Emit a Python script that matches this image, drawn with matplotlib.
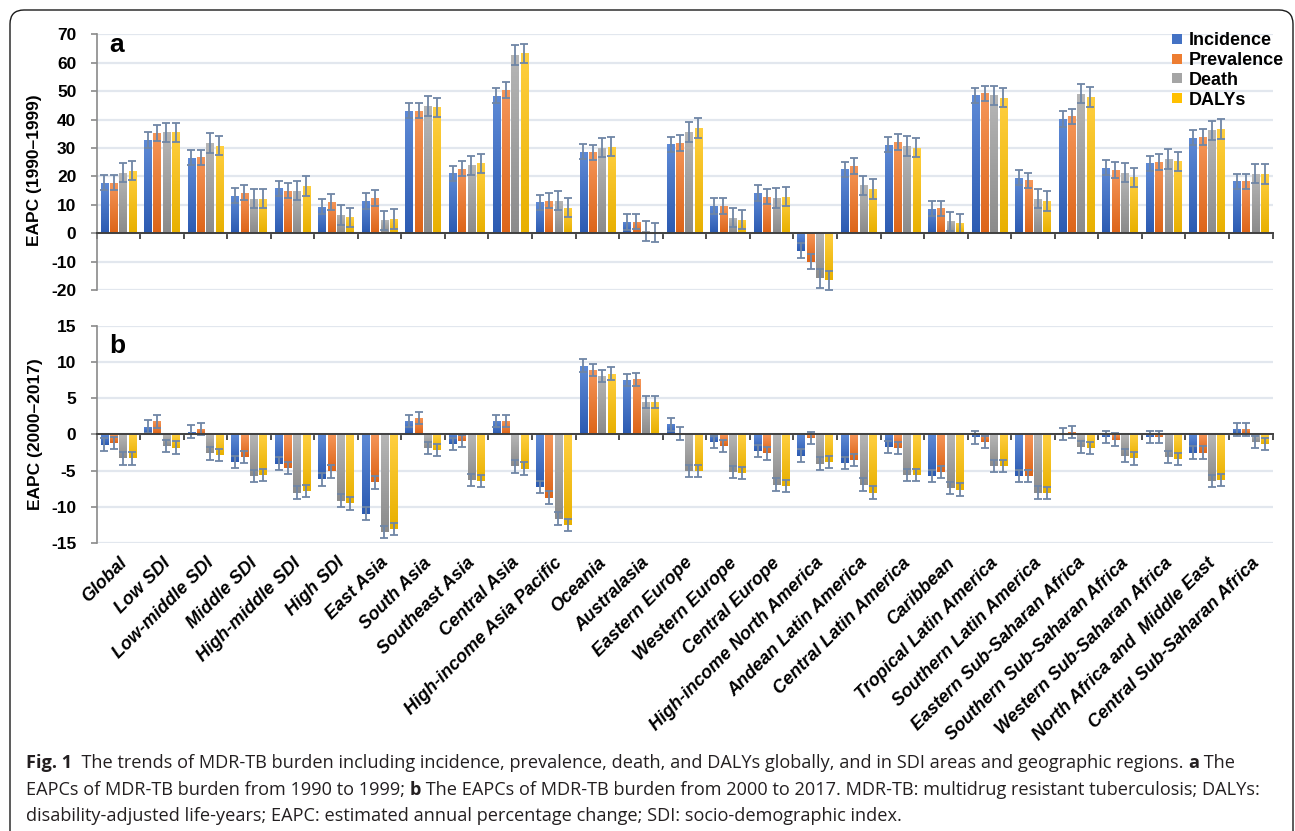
import numpy as np
import matplotlib
matplotlib.use("Agg")
import matplotlib.pyplot as plt
from matplotlib import transforms
from matplotlib.colors import LinearSegmentedColormap
from matplotlib.lines import Line2D
from matplotlib.patches import FancyBboxPatch

regions = [
    "Global", "Low SDI", "Low-middle SDI", "Middle SDI", "High-middle SDI",
    "High SDI", "East Asia", "South Asia", "Southeast Asia", "Central Asia",
    "High-income Asia Pacific", "Oceania", "Australasia", "Eastern Europe",
    "Western Europe", "Central Europe", "High-income North America",
    "Andean Latin America", "Central Latin America", "Caribbean",
    "Tropical Latin America", "Southern Latin America",
    "Eastern Sub-Saharan Africa", "Southern Sub-Saharan Africa",
    "Western Sub-Saharan Africa", "North Africa and  Middle East",
    "Central Sub-Saharan Africa",
]
measures = ["Incidence", "Prevalence", "Death", "DALYs"]

# EAPC 1990-1999
inc_a = [17.8, 32.8, 26.6, 13.2, 15.8, 9.3, 11.3, 43.1, 21.1, 48.4, 10.9, 28.7, 3.9, 31.3,
         9.6, 14.2, -6.2, 22.5, 31.2, 8.6, 48.5, 19.5, 40.2, 23.1, 24.6, 33.6, 18.2]
prev_a = [17.8, 35.2, 26.7, 14.3, 15.0, 11.0, 12.4, 43.1, 22.7, 50.4, 11.4, 28.4, 4.1, 31.8,
          9.6, 12.9, -10.0, 23.7, 32.1, 8.7, 49.2, 18.6, 41.1, 22.2, 25.1, 33.9, 18.2]
death_a = [21.3, 35.5, 31.7, 12.1, 15.0, 6.4, 4.5, 44.8, 23.9, 62.7, 11.4, 30.1, 0.8, 35.6,
           5.5, 12.4, -15.9, 16.8, 30.7, 4.2, 48.5, 12.1, 49.1, 21.3, 26.1, 36.2, 20.9]
dalys_a = [22.0, 35.5, 30.8, 12.1, 16.6, 5.6, 5.0, 44.3, 24.6, 63.3, 9.0, 30.5, 0.2, 37.0,
           4.7, 12.8, -16.6, 15.6, 30.1, 3.5, 47.7, 11.3, 47.9, 19.7, 25.3, 36.7, 20.8]
err_a = [2.7, 2.7, 3.4, 3.4]

# EAPC 2000-2017
inc_b = [-1.4, 1.1, 0.4, -3.8, -4.0, -6.2, -10.9, 1.9, -1.3, 1.9, -7.2, 9.5, 7.5, 1.4,
         -1.0, -2.3, -2.9, -3.9, -1.7, -5.7, -0.4, -5.7, 0.1, -0.3, -0.3, -2.5, 0.7]
prev_b = [-1.2, 1.8, 0.8, -3.1, -4.6, -5.1, -6.6, 2.3, -0.9, 1.9, -8.7, 8.9, 7.6, 0.15,
          -1.6, -2.6, -0.5, -3.5, -1.9, -5.2, -1.0, -5.7, 0.3, -0.7, -0.3, -2.5, 0.7]
death_b = [-3.3, -1.6, -2.6, -5.7, -8.0, -9.1, -13.4, -1.9, -6.3, -4.4, -11.6, 8.1, 4.5, -5.0,
           -5.2, -6.9, -4.0, -6.9, -5.6, -7.4, -4.3, -8.0, -1.7, -2.9, -3.1, -6.4, -1.0]
dalys_b = [-3.3, -1.8, -2.8, -5.6, -7.8, -9.5, -13.0, -2.1, -6.4, -4.7, -12.5, 8.4, 4.5, -5.0,
           -5.3, -7.1, -3.8, -8.0, -5.6, -7.6, -4.3, -8.1, -1.9, -3.3, -3.4, -6.3, -1.3]
err_b = [0.85, 0.85, 0.85, 0.85]

# light (top) / dark (bottom) shades of each series
shades = [("#5e8ad6", "#2c5bb2"), ("#f59659", "#dd6519"),
          ("#b6b6b6", "#8b8b8b"), ("#ffcf40", "#e8b000")]
solid = ["#4472c4", "#ed7d31", "#a5a5a5", "#ffc000"]

plt.rcParams["font.family"] = ["Liberation Sans", "DejaVu Sans"]

W, H = 1295, 831
fig = plt.figure(figsize=(W / 100, H / 100), dpi=100)

ax_a = fig.add_axes([96.5 / W, 1 - 290 / H, 1176 / W, 255.7 / H])
ax_b = fig.add_axes([96.5 / W, 1 - 543.3 / H, 1176 / W, 217.6 / H])

x = np.arange(len(regions))
pitch = 0.214
bar_w = 0.17
grad = np.linspace(0, 1, 64).reshape(-1, 1)


def draw_panel(ax, series, errs, ylim, yticks):
    for k, vals in enumerate(series):
        xs = x + (k - 1.5) * pitch
        bars = ax.bar(xs, vals, bar_w, color=solid[k], lw=0, zorder=2)
        cmap = LinearSegmentedColormap.from_list("g%d" % k, [shades[k][1], shades[k][0]])
        for rect in bars:
            x0, y0 = rect.get_x(), rect.get_y()
            w, h = rect.get_width(), rect.get_height()
            lo, hi = min(y0, y0 + h), max(y0, y0 + h)
            im = ax.imshow(grad, extent=[x0, x0 + w, lo, hi], origin="lower",
                           aspect="auto", cmap=cmap, zorder=2.1, interpolation="bilinear")
            im.set_clip_path(rect)
        ax.errorbar(xs, vals, yerr=errs[k], fmt="none", ecolor="#6f86a6",
                    elinewidth=1.3, capsize=3, capthick=1.3, zorder=4)

    ax.set_xlim(-0.5, len(regions) - 0.5)
    ax.set_ylim(*ylim)
    ax.set_yticks(yticks)
    ax.set_yticklabels([str(t) for t in yticks])
    ax.yaxis.grid(True, color="#e2e7ee", lw=1.6)
    ax.set_axisbelow(True)

    for s in ("top", "right"):
        ax.spines[s].set_visible(False)
    ax.spines["left"].set_color("#8a8a8a")
    ax.spines["left"].set_linewidth(1.2)
    ax.spines["bottom"].set_position(("data", 0))
    ax.spines["bottom"].set_color("#404040")
    ax.spines["bottom"].set_linewidth(1.4)
    ax.spines["bottom"].set_zorder(5)

    ax.set_xticks([])
    ax.set_xticks(np.arange(-0.5, len(regions), 1), minor=True)
    ax.tick_params(axis="x", which="minor", length=4, width=1.3, color="#404040",
                   direction="out")
    ax.tick_params(axis="y", length=4.5, width=1.2, color="#8a8a8a", pad=10,
                   labelsize=12.5)
    for lab in ax.get_yticklabels():
        lab.set_fontweight("bold")


draw_panel(ax_a, [inc_a, prev_a, death_a, dalys_a], err_a, (-20, 70), list(range(-20, 71, 10)))
draw_panel(ax_b, [inc_b, prev_b, death_b, dalys_b], err_b, (-15, 15), list(range(-15, 16, 5)))

ax_a.text(0.011, 0.931, "a", transform=ax_a.transAxes, fontsize=19, fontweight="bold",
          va="baseline")
ax_b.text(0.011, 0.875, "b", transform=ax_b.transAxes, fontsize=19, fontweight="bold",
          va="baseline")

fig.text(34.5 / W, 1 - 170 / H, "EAPC (1990\u20131999)", rotation=90, ha="center",
         va="center", fontsize=12.5, fontweight="bold")
fig.text(36 / W, 1 - 434 / H, "EAPC (2000\u20132017)", rotation=90, ha="center",
         va="center", fontsize=12.5, fontweight="bold")

# region names under panel b
shift = transforms.ScaledTranslation(0.06, -0.17, fig.dpi_scale_trans)
for i, name in enumerate(regions):
    ax_b.text(i, 0, name, transform=ax_b.get_xaxis_transform() + shift, rotation=45,
              rotation_mode="anchor", ha="right", va="center", fontsize=13,
              fontweight="bold", fontstyle="italic")

handles = [Line2D([], [], ls="", marker="s", markersize=6.5, color=c, markeredgewidth=0)
           for c in solid]
fig.legend(handles, measures, loc="upper left", bbox_to_anchor=(1172 / W, 1 - 32 / H),
           frameon=False, prop={"weight": "bold", "size": 13}, handlelength=0.6,
           handletextpad=0.3, labelspacing=0.16, borderpad=0, borderaxespad=0)

# caption with bold runs
cap_font = ["Open Sans", "DejaVu Sans"]
cap_size = 13.1
cap_color = "#231f20"
caption = [
    [("Fig. 1", "bold"),
     ("  The trends of MDR-TB burden including incidence, prevalence, death, and DALYs "
      "globally, and in SDI areas and geographic regions. ", "normal"),
     ("a", "bold"), (" The", "normal")],
    [("EAPCs of MDR-TB burden from 1990 to 1999; ", "normal"), ("b", "bold"),
     (" The EAPCs of MDR-TB burden from 2000 to 2017. MDR-TB: multidrug resistant "
      "tuberculosis; DALYs:", "normal")],
    [("disability-adjusted life-years; EAPC: estimated annual percentage change; "
      "SDI: socio-demographic index.", "normal")],
]
baselines = [768, 795, 821]
for runs, yb in zip(caption, baselines):
    prev = None
    for txt, wt in runs:
        if prev is None:
            prev = fig.text(26 / W, 1 - yb / H, txt, fontsize=cap_size, fontweight=wt,
                            family=cap_font, color=cap_color, va="baseline", ha="left")
        else:
            prev = ax_b.annotate(txt, xy=(1, 0), xycoords=prev, va="bottom", ha="left",
                                 fontsize=cap_size, fontweight=wt, family=cap_font,
                                 color=cap_color, annotation_clip=False)

frame = FancyBboxPatch((10, -30), 1283, 831 - 10 + 30, boxstyle="round,pad=0,rounding_size=14",
                       transform=transforms.IdentityTransform(), fill=False,
                       edgecolor="#1a1a1a", lw=1.0)
fig.add_artist(frame)

fig.savefig("out.png", dpi=100)
